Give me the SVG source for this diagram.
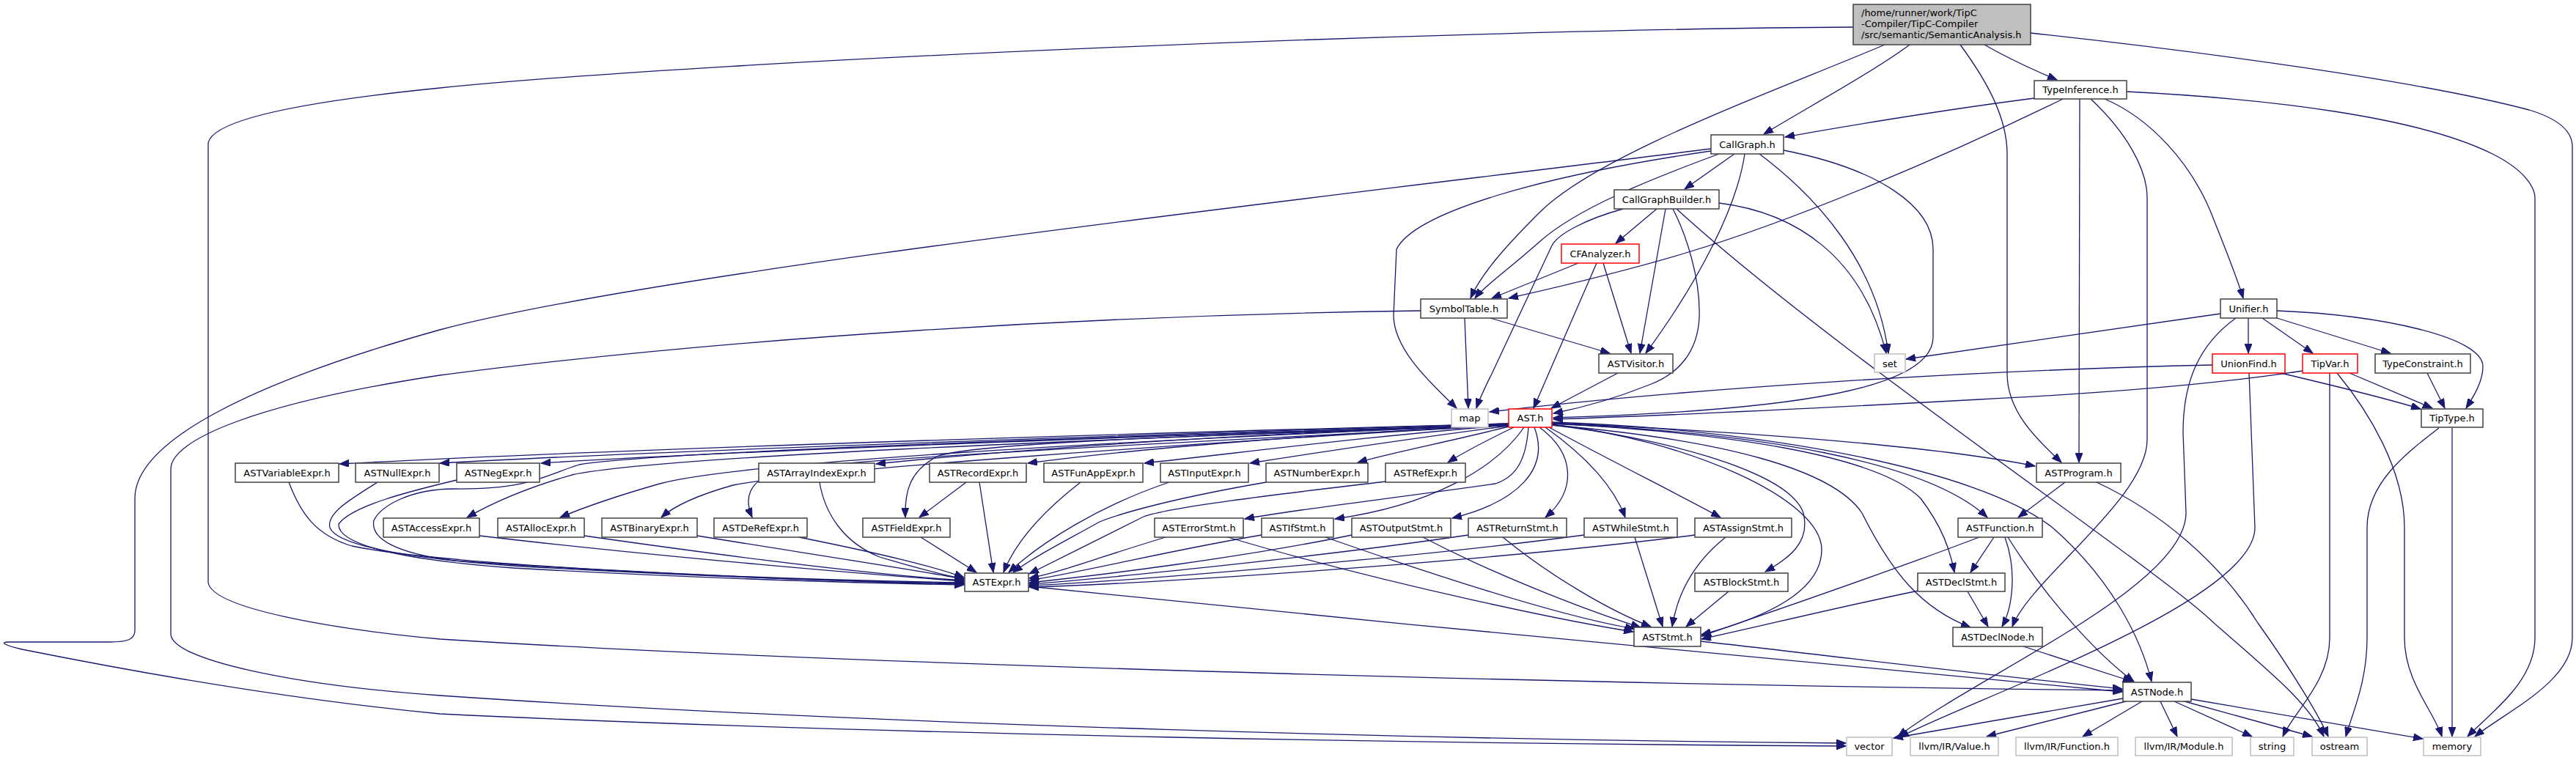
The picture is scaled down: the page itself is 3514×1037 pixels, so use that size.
<svg xmlns="http://www.w3.org/2000/svg" width="3514" height="1037" viewBox="0 0 3514 1037">
<defs>
<style>
.e path{fill:none;stroke:#191970;stroke-width:1.3;marker-end:url(#ah)}
.n rect{fill:#ffffff;stroke:#404040;stroke-width:1.5}
.n.g rect{stroke:#bfbfbf}
.n.r rect{stroke:#ff0000}
.n.root rect{fill:#bfbfbf}
text{font-family:"DejaVu Sans","Liberation Sans",sans-serif;font-size:13px;fill:#000;text-anchor:middle}
.root text{text-anchor:start}
</style>
<marker id="ah" markerUnits="userSpaceOnUse" markerWidth="14" markerHeight="10" refX="13" refY="5" orient="auto"><path d="M0,0 L13,5 L0,10 z" fill="#191970" stroke="#191970" stroke-width="1"/></marker>
</defs>
<rect width="3514" height="1037" fill="#ffffff"/>
<g id="edges" class="e">
<path d="M2605,61 C2560,95 2460,150 2406,183"/>
<path d="M2571,61 C2420,125 2180,210 2100,290 C2050,340 2020,375 2006,407"/>
<path d="M2707,61 C2740,80 2780,98 2806,109"/>
<path d="M2674,61 C2710,110 2738,160 2738,210 L2738,510 C2738,565 2785,605 2812,631"/>
<path d="M2528,37 C2000,40 1000,80 600,120 C400,140 290,165 284,195 L284,795 C290,830 450,858 600,872 C1200,910 2300,936 2895,942"/>
<path d="M2770,45 C3000,70 3300,110 3450,150 C3500,165 3509,185 3509,200 L3509,870 C3509,930 3420,970 3376,1005"/>
<path d="M2775,134 C2650,150 2500,175 2435,187"/>
<path d="M2814,135 C2650,215 2450,300 2300,345 C2200,375 2110,395 2058,407"/>
<path d="M2837,135 L2836,631"/>
<path d="M2852,135 C2900,180 2929,230 2929,270 L2929,600 C2929,680 2770,790 2745,855"/>
<path d="M2871,135 C2930,160 2990,220 3020,300 C3040,350 3055,390 3060,407"/>
<path d="M2901,125 C3100,135 3300,160 3400,210 C3450,235 3458,260 3458,270 L3458,870 C3458,930 3400,970 3366,1005"/>
<path d="M2366,210 L2298,258"/>
<path d="M2345,210 C2250,245 2150,285 2100,330 C2055,370 2025,390 2012,407"/>
<path d="M2380,210 C2370,280 2320,380 2245,482"/>
<path d="M2400,210 C2480,270 2560,360 2576,482"/>
<path d="M2433,205 C2560,230 2637,280 2637,340 L2637,460 C2637,530 2450,560 2119,570"/>
<path d="M2334,206 C2100,240 1930,290 1905,340 L1901,430 C1901,480 1960,530 1987,557"/>
<path d="M2334,203 C1800,270 900,370 600,450 C350,520 184,600 184,680 L184,860 C184,872 175,876 150,876 L12,876 C0,876 4,880 30,886 C200,920 400,955 600,974 C1200,1003 2000,1015 2518,1018"/>
<path d="M2260,285 L2204,332"/>
<path d="M2272,285 L2237,482"/>
<path d="M2214,285 C2160,300 2125,320 2117,335 L2035,510 C2025,530 2018,545 2014,557"/>
<path d="M2282,285 C2300,320 2320,380 2318,433 C2316,480 2290,510 2250,525 C2200,545 2150,558 2119,564"/>
<path d="M2345,277 C2450,290 2540,350 2573,482"/>
<path d="M2287,285 C2500,480 2950,780 3020,850 C3100,920 3150,960 3170,1005"/>
<path d="M2153,359 L2035,407"/>
<path d="M2187,359 L2225,482"/>
<path d="M2178,359 L2092,557"/>
<path d="M2033,434 L2196,482"/>
<path d="M1998,434 L2003,557"/>
<path d="M1938,424 C1500,430 1000,460 600,512 C350,550 233,600 233,640 L233,865 C233,900 400,935 600,949 C1200,990 2000,1010 2518,1014"/>
<path d="M2207,509 L2116,557"/>
<path d="M3067,434 L3067,482"/>
<path d="M3086,434 L3155,482"/>
<path d="M3106,434 L3261,482"/>
<path d="M3106,424 C3250,430 3387,460 3387,500 C3387,520 3375,540 3364,557"/>
<path d="M3029,428 C2850,455 2700,475 2600,490"/>
<path d="M3050,434 C3000,470 2978,520 2978,590 L2982,700 C2982,800 2700,920 2589,1005"/>
<path d="M3068,509 L3076,720 C3076,820 2700,950 2591,1006"/>
<path d="M3018,498 C2700,505 2300,530 2032,562"/>
<path d="M3111,509 C3200,530 3260,545 3302,558"/>
<path d="M3141,506 C3050,520 2900,535 2700,545 C2500,556 2300,566 2119,572"/>
<path d="M3205,509 L3318,557"/>
<path d="M3178,509 L3178,870 C3178,930 3130,970 3114,1005"/>
<path d="M3188,509 C3230,560 3280,640 3280,720 L3280,870 C3280,930 3320,970 3331,1005"/>
<path d="M3311,509 L3335,557"/>
<path d="M3327,584 C3280,620 3229,660 3229,720 L3229,870 C3229,930 3210,970 3200,1005"/>
<path d="M3345,584 L3345,1005"/>
<path d="M2947,957 L2970,1005"/>
<path d="M2966,957 L3072,1005"/>
<path d="M2980,957 L3154,1005"/>
<path d="M2989,954 L3305,1008"/>
<path d="M2896,953 L2583,1007"/>
<path d="M2900,957 L2710,1005"/>
<path d="M2922,957 L2841,1005"/>
<path d="M2817,658 L2753,706"/>
<path d="M2860,658 C2950,700 3030,770 3080,850 C3130,920 3165,980 3176,1005"/>
<path d="M2720,733 L2688,781"/>
<path d="M2735,733 C2752,780 2745,830 2731,855"/>
<path d="M2739,733 C2800,830 2870,900 2911,930"/>
<path d="M2700,733 C2550,790 2400,840 2321,868"/>
<path d="M2684,807 L2712,855"/>
<path d="M2617,806 C2500,830 2400,855 2321,872"/>
<path d="M2760,882 L2909,930"/>
<path d="M2320,875 C2500,895 2700,920 2895,940"/>
<path d="M1403,800 C1900,850 2500,910 2895,944"/>
<path d="M2058,578 C1600,590 900,610 463,633"/>
<path d="M2058,578 C1600,592 900,615 600,632"/>
<path d="M2058,579 C1600,594 1000,615 738,632"/>
<path d="M2058,579 C1700,592 1400,612 1195,633"/>
<path d="M2058,580 C1800,592 1550,612 1402,632"/>
<path d="M2058,580 C1850,597 1700,617 1561,632"/>
<path d="M2058,581 C1900,602 1800,617 1705,632"/>
<path d="M2058,582 C1980,602 1900,617 1852,631"/>
<path d="M2065,583 C2030,600 2000,615 1975,631"/>
<path d="M2058,579 C1500,600 900,622 780,648 C710,668 665,690 637,706"/>
<path d="M2058,580 C1500,602 1000,632 900,660 C830,680 790,695 764,706"/>
<path d="M2058,580 C1600,606 1100,642 1000,662 C950,676 920,690 902,706"/>
<path d="M2058,580 C1700,600 1200,622 1060,642 C1020,658 1015,680 1026,706"/>
<path d="M2058,580 C1800,590 1350,600 1280,622 C1240,642 1234,672 1235,706"/>
<path d="M2085,583 C2082,625 2070,650 2040,660 C1900,680 1760,696 1698,708"/>
<path d="M2079,583 C2040,640 1950,690 1821,708"/>
<path d="M2093,583 C2115,640 2070,685 1981,707"/>
<path d="M2100,583 C2150,620 2150,670 2108,706"/>
<path d="M2108,583 C2160,620 2200,660 2217,706"/>
<path d="M2113,583 C2200,630 2300,680 2347,706"/>
<path d="M2117,580 C2250,595 2440,640 2460,700 C2470,740 2440,762 2408,780"/>
<path d="M2117,579 C2300,600 2485,680 2485,750 C2485,810 2400,845 2321,866"/>
<path d="M2117,578 C2400,590 2630,630 2711,706"/>
<path d="M2117,577 C2400,590 2650,610 2776,636"/>
<path d="M2117,578 C2350,590 2560,620 2620,680 C2650,720 2660,750 2666,781"/>
<path d="M2117,580 C2350,600 2500,640 2540,700 C2580,780 2620,830 2688,856"/>
<path d="M2117,576 C2400,585 2700,640 2800,720 C2880,790 2920,870 2935,930"/>
<path d="M2058,580 C1500,596 900,616 790,634 C740,650 720,668 620,667 C560,667 520,690 510,710 C505,735 540,755 620,765 C900,785 1200,795 1315,797"/>
<path d="M394,658 C410,700 430,730 480,745 C600,770 1000,790 1315,795"/>
<path d="M515,658 C480,680 445,700 450,720 C460,745 560,762 700,772 C1000,790 1250,795 1315,796"/>
<path d="M623,655 C560,670 480,690 462,715 C460,745 560,765 700,775 C1000,792 1250,797 1315,798"/>
<path d="M654,731 C900,760 1200,785 1315,793"/>
<path d="M797,731 C1000,760 1200,785 1315,792"/>
<path d="M951,731 C1100,755 1250,778 1315,790"/>
<path d="M1090,733 C1200,755 1280,775 1315,788"/>
<path d="M1118,658 C1125,700 1150,740 1200,760 C1250,775 1290,785 1315,790"/>
<path d="M1318,658 L1254,706"/>
<path d="M1336,658 L1355,781"/>
<path d="M1256,733 L1332,781"/>
<path d="M1474,658 C1420,700 1385,740 1369,781"/>
<path d="M1595,658 C1500,690 1420,740 1376,781"/>
<path d="M1727,658 C1600,680 1530,700 1500,712 C1450,740 1410,760 1382,781"/>
<path d="M1890,657 C1800,668 1600,690 1560,705 C1520,725 1450,760 1404,783"/>
<path d="M1590,733 C1500,760 1450,780 1404,789"/>
<path d="M1721,730 C1600,750 1480,780 1404,792"/>
<path d="M1844,730 C1700,760 1500,785 1404,795"/>
<path d="M2003,730 C1800,760 1500,790 1404,797"/>
<path d="M2161,730 C1900,765 1500,795 1404,799"/>
<path d="M2312,730 C2000,770 1500,800 1404,801"/>
<path d="M1675,733 C1900,800 2150,850 2228,862"/>
<path d="M1808,733 C2000,800 2150,845 2230,858"/>
<path d="M1941,733 C2050,790 2180,838 2238,856"/>
<path d="M2050,733 C2120,790 2200,835 2252,855"/>
<path d="M2230,733 L2268,855"/>
<path d="M2354,733 C2320,760 2290,800 2281,855"/>
<path d="M2358,807 L2300,855"/>
</g>
<g id="node-root" class="n root"><rect x="2528" y="6" width="242" height="55"/><text x="2539" y="22">/home/runner/work/TipC</text><text x="2539" y="37">-Compiler/TipC-Compiler</text><text x="2539" y="52">/src/semantic/SemanticAnalysis.h</text></g>
<g id="node-TypeInference" class="n"><rect x="2775" y="110" width="126" height="25"/><text x="2838" y="127">TypeInference.h</text></g>
<g id="node-CallGraph" class="n"><rect x="2334" y="184" width="99" height="26"/><text x="2383.5" y="201.5">CallGraph.h</text></g>
<g id="node-CallGraphBuilder" class="n"><rect x="2202" y="259" width="143" height="26"/><text x="2273.5" y="276.5">CallGraphBuilder.h</text></g>
<g id="node-CFAnalyzer" class="n r"><rect x="2130" y="333" width="106" height="26"/><text x="2183" y="350.5">CFAnalyzer.h</text></g>
<g id="node-SymbolTable" class="n"><rect x="1938" y="408" width="118" height="26"/><text x="1997" y="425.5">SymbolTable.h</text></g>
<g id="node-Unifier" class="n"><rect x="3029" y="408" width="77" height="26"/><text x="3067.5" y="425.5">Unifier.h</text></g>
<g id="node-ASTVisitor" class="n"><rect x="2181" y="483" width="101" height="26"/><text x="2231.5" y="500.5">ASTVisitor.h</text></g>
<g id="node-set" class="n g"><rect x="2557" y="483" width="42" height="25"/><text x="2578" y="500.5">set</text></g>
<g id="node-UnionFind" class="n r"><rect x="3018" y="483" width="99" height="26"/><text x="3067.5" y="500.5">UnionFind.h</text></g>
<g id="node-TipVar" class="n r"><rect x="3141" y="483" width="75" height="26"/><text x="3178.5" y="500.5">TipVar.h</text></g>
<g id="node-TypeConstraint" class="n"><rect x="3240" y="483" width="130" height="26"/><text x="3305" y="500.5">TypeConstraint.h</text></g>
<g id="node-map" class="n g"><rect x="1980" y="558" width="50" height="25"/><text x="2005" y="575">map</text></g>
<g id="node-AST" class="n r"><rect x="2058" y="558" width="59" height="25"/><text x="2087.5" y="575">AST.h</text></g>
<g id="node-TipType" class="n"><rect x="3303" y="558" width="84" height="25"/><text x="3345" y="575">TipType.h</text></g>
<g id="node-ASTVariableExpr" class="n"><rect x="321" y="632" width="141" height="26"/><text x="391.5" y="649.5">ASTVariableExpr.h</text></g>
<g id="node-ASTNullExpr" class="n"><rect x="485" y="632" width="114" height="26"/><text x="542" y="649.5">ASTNullExpr.h</text></g>
<g id="node-ASTNegExpr" class="n"><rect x="623" y="632" width="113" height="26"/><text x="679.5" y="649.5">ASTNegExpr.h</text></g>
<g id="node-ASTArrayIndexExpr" class="n"><rect x="1035" y="632" width="158" height="26"/><text x="1114" y="649.5">ASTArrayIndexExpr.h</text></g>
<g id="node-ASTRecordExpr" class="n"><rect x="1268" y="632" width="132" height="26"/><text x="1334" y="649.5">ASTRecordExpr.h</text></g>
<g id="node-ASTFunAppExpr" class="n"><rect x="1424" y="632" width="135" height="26"/><text x="1491.5" y="649.5">ASTFunAppExpr.h</text></g>
<g id="node-ASTInputExpr" class="n"><rect x="1583" y="632" width="120" height="26"/><text x="1643" y="649.5">ASTInputExpr.h</text></g>
<g id="node-ASTNumberExpr" class="n"><rect x="1727" y="632" width="139" height="26"/><text x="1796.5" y="649.5">ASTNumberExpr.h</text></g>
<g id="node-ASTRefExpr" class="n"><rect x="1890" y="632" width="109" height="26"/><text x="1944.5" y="649.5">ASTRefExpr.h</text></g>
<g id="node-ASTProgram" class="n"><rect x="2778" y="632" width="115" height="26"/><text x="2835.5" y="649.5">ASTProgram.h</text></g>
<g id="node-ASTAccessExpr" class="n"><rect x="523" y="707" width="131" height="26"/><text x="588.5" y="724.5">ASTAccessExpr.h</text></g>
<g id="node-ASTAllocExpr" class="n"><rect x="679" y="707" width="118" height="26"/><text x="738" y="724.5">ASTAllocExpr.h</text></g>
<g id="node-ASTBinaryExpr" class="n"><rect x="821" y="707" width="130" height="26"/><text x="886" y="724.5">ASTBinaryExpr.h</text></g>
<g id="node-ASTDeRefExpr" class="n"><rect x="974" y="707" width="127" height="26"/><text x="1037.5" y="724.5">ASTDeRefExpr.h</text></g>
<g id="node-ASTFieldExpr" class="n"><rect x="1177" y="707" width="119" height="26"/><text x="1236.5" y="724.5">ASTFieldExpr.h</text></g>
<g id="node-ASTErrorStmt" class="n"><rect x="1575" y="707" width="121" height="26"/><text x="1635.5" y="724.5">ASTErrorStmt.h</text></g>
<g id="node-ASTIfStmt" class="n"><rect x="1721" y="707" width="98" height="26"/><text x="1770" y="724.5">ASTIfStmt.h</text></g>
<g id="node-ASTOutputStmt" class="n"><rect x="1844" y="707" width="135" height="26"/><text x="1911.5" y="724.5">ASTOutputStmt.h</text></g>
<g id="node-ASTReturnStmt" class="n"><rect x="2003" y="707" width="134" height="26"/><text x="2070" y="724.5">ASTReturnStmt.h</text></g>
<g id="node-ASTWhileStmt" class="n"><rect x="2161" y="707" width="127" height="26"/><text x="2224.5" y="724.5">ASTWhileStmt.h</text></g>
<g id="node-ASTAssignStmt" class="n"><rect x="2312" y="707" width="132" height="26"/><text x="2378" y="724.5">ASTAssignStmt.h</text></g>
<g id="node-ASTFunction" class="n"><rect x="2671" y="707" width="115" height="26"/><text x="2728.5" y="724.5">ASTFunction.h</text></g>
<g id="node-ASTExpr" class="n"><rect x="1316" y="782" width="87" height="25"/><text x="1359.5" y="799">ASTExpr.h</text></g>
<g id="node-ASTBlockStmt" class="n"><rect x="2312" y="782" width="127" height="25"/><text x="2375.5" y="799">ASTBlockStmt.h</text></g>
<g id="node-ASTDeclStmt" class="n"><rect x="2616" y="782" width="119" height="25"/><text x="2675.5" y="799">ASTDeclStmt.h</text></g>
<g id="node-ASTStmt" class="n"><rect x="2229" y="856" width="91" height="26"/><text x="2274.5" y="873.5">ASTStmt.h</text></g>
<g id="node-ASTDeclNode" class="n"><rect x="2664" y="856" width="122" height="26"/><text x="2725" y="873.5">ASTDeclNode.h</text></g>
<g id="node-ASTNode" class="n"><rect x="2896" y="931" width="93" height="26"/><text x="2942.5" y="948.5">ASTNode.h</text></g>
<g id="node-vector" class="n g"><rect x="2519" y="1006" width="62" height="25"/><text x="2550" y="1023">vector</text></g>
<g id="node-llvm-Value" class="n g"><rect x="2606" y="1006" width="120" height="25"/><text x="2666" y="1023">llvm/IR/Value.h</text></g>
<g id="node-llvm-Function" class="n g"><rect x="2750" y="1006" width="139" height="25"/><text x="2819.5" y="1023">llvm/IR/Function.h</text></g>
<g id="node-llvm-Module" class="n g"><rect x="2913" y="1006" width="132" height="25"/><text x="2979" y="1023">llvm/IR/Module.h</text></g>
<g id="node-string" class="n g"><rect x="3070" y="1006" width="59" height="25"/><text x="3099.5" y="1023">string</text></g>
<g id="node-ostream" class="n g"><rect x="3154" y="1006" width="75" height="25"/><text x="3191.5" y="1023">ostream</text></g>
<g id="node-memory" class="n g"><rect x="3306" y="1006" width="78" height="25"/><text x="3345" y="1023">memory</text></g>
</svg>
